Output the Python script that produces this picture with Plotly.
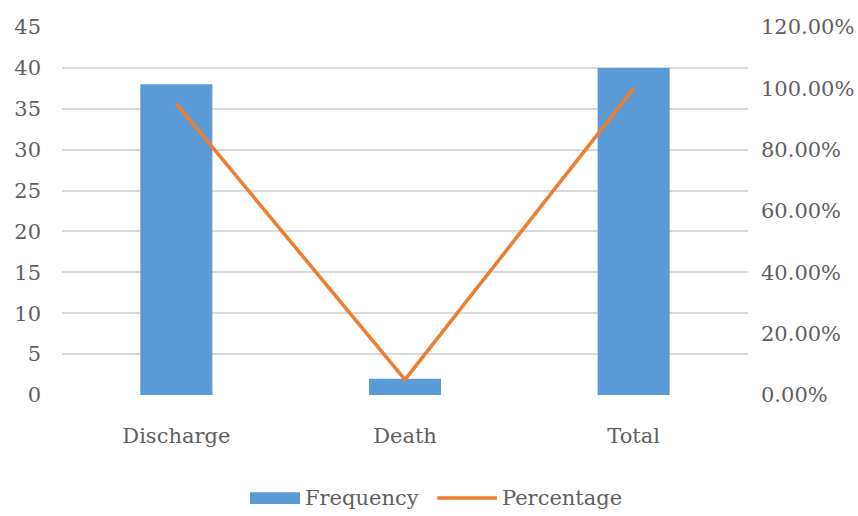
import plotly.graph_objects as go

categories = ["Discharge", "Death", "Total"]
frequency = [38, 2, 40]
percentage = [0.95, 0.05, 1.00]

left_ticks = [0, 5, 10, 15, 20, 25, 30, 35, 40, 45]
right_ticks = [0, 0.2, 0.4, 0.6, 0.8, 1.0, 1.2]
right_labels = ["0.00%", "20.00%", "40.00%", "60.00%", "80.00%", "100.00%", "120.00%"]

font_family = "DejaVu Serif, serif"
text_color = "#5f5f5f"
bar_color = "#5B9BD5"
line_color = "#ED7D31"
fsize = 21

fig = go.Figure()
fig.add_trace(go.Bar(
    x=categories, y=frequency, name="Frequency",
    marker=dict(color=bar_color, line=dict(width=0)),
    width=0.315, yaxis="y", showlegend=False,
))
fig.add_trace(go.Scatter(
    x=categories, y=percentage, name="Percentage",
    mode="lines", line=dict(color=line_color, width=3.5),
    yaxis="y2", showlegend=False,
))

# Legend drawn below the plot area (wide swatch for the bar series)
legend_y = -0.280
fig.add_shape(type="rect", xref="paper", yref="paper",
              x0=0.274, x1=0.347, y0=legend_y - 0.016, y1=legend_y + 0.016,
              fillcolor=bar_color, line=dict(width=0))
fig.add_shape(type="line", xref="paper", yref="paper",
              x0=0.547, x1=0.634, y0=legend_y, y1=legend_y,
              line=dict(color=line_color, width=3.5))
fig.add_annotation(text="Frequency", xref="paper", yref="paper",
                   x=0.351, y=legend_y, xanchor="left", yanchor="middle",
                   showarrow=False, font=dict(size=fsize, color=text_color))
fig.add_annotation(text="Percentage", xref="paper", yref="paper",
                   x=0.638, y=legend_y, xanchor="left", yanchor="middle",
                   showarrow=False, font=dict(size=fsize, color=text_color))

fig.update_layout(
    width=858, height=516,
    margin=dict(l=62, r=110, t=27, b=121),
    paper_bgcolor="white", plot_bgcolor="white",
    font=dict(family=font_family, size=fsize, color=text_color),
    showlegend=False,
    xaxis=dict(showgrid=False, showline=False, ticks="", tickfont=dict(size=fsize),
               ticklabelstandoff=26, automargin=False),
    yaxis=dict(range=[0, 45], tickvals=left_ticks, showgrid=True, gridcolor="#d9d9d9",
               gridwidth=1.5, zeroline=False, showline=False, ticks="",
               tickfont=dict(size=fsize), ticklabelstandoff=20, automargin=False),
    yaxis2=dict(range=[0, 1.2], tickvals=right_ticks, ticktext=right_labels,
                overlaying="y", side="right", showgrid=False, zeroline=False,
                showline=False, ticks="", tickfont=dict(size=fsize),
                ticklabelstandoff=12, automargin=False),
)

fig.write_html("out.html")
